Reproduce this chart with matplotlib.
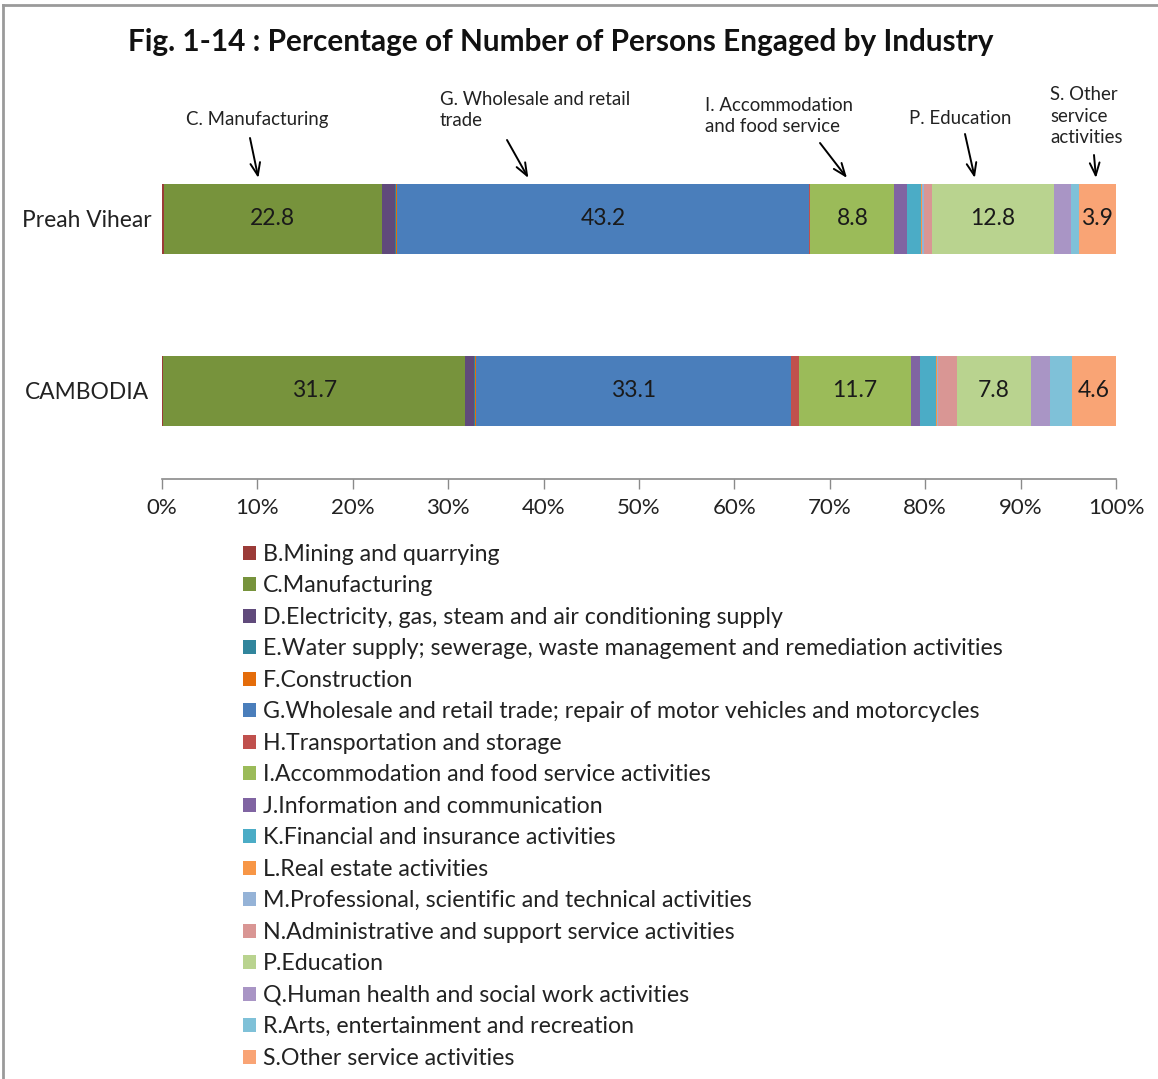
import matplotlib
matplotlib.use("Agg")
import matplotlib.pyplot as plt
from matplotlib.lines import Line2D
import numpy as np

plt.rcParams['font.family'] = ['Lato', 'DejaVu Sans']

regions = ["Preah Vihear", "CAMBODIA"]
industries = [
    "B.Mining and quarrying",
    "C.Manufacturing",
    "D.Electricity, gas, steam and air conditioning supply",
    "E.Water supply; sewerage, waste management and remediation activities",
    "F.Construction",
    "G.Wholesale and retail trade; repair of motor vehicles and motorcycles",
    "H.Transportation and storage",
    "I.Accommodation and food service activities",
    "J.Information and communication",
    "K.Financial and insurance activities",
    "L.Real estate activities",
    "M.Professional, scientific and technical activities",
    "N.Administrative and support service activities",
    "P.Education",
    "Q.Human health and social work activities",
    "R.Arts, entertainment and recreation",
    "S.Other service activities",
]
preah_vihear = [0.2, 22.8, 1.4, 0.1, 0.1, 43.2, 0.1, 8.8, 1.3, 1.5, 0.1, 0.2, 0.8, 12.8, 1.8, 0.8, 3.9]
cambodia = [0.1, 31.7, 0.9, 0.1, 0.1, 33.1, 0.8, 11.7, 1.0, 1.7, 0.05, 0.1, 2.0, 7.8, 2.0, 2.3, 4.6]
labeled = ["C.Manufacturing", "G.Wholesale and retail trade; repair of motor vehicles and motorcycles",
           "I.Accommodation and food service activities", "P.Education", "S.Other service activities"]
tick_values = list(range(0, 101, 10))
tick_labels = [f"{v}%" for v in tick_values]

colors = ["#9B3B38", "#77933C", "#604A7B", "#31859C", "#E46C0A", "#4A7EBB", "#C0504D",
          "#9BBB59", "#8064A2", "#4BACC6", "#F79646", "#95B3D7", "#D99694", "#B9D38F",
          "#A995C5", "#7FC1D8", "#F9A475"]

annotations = [
    ("C. Manufacturing", 10.1),
    ("G. Wholesale and retail\ntrade", 38.4),
    ("I. Accommodation\nand food service", 71.8),
    ("P. Education", 85.2),
    ("S. Other\nservice\nactivities", 97.9),
]

W, H = 1158, 1079
fig = plt.figure(figsize=(W / 100, H / 100), dpi=100)

def fx(px):
    return px / W

def fy(py):
    return 1 - py / H

ax = fig.add_axes([fx(162), fy(479), fx(1116) - fx(162), fy(150) - fy(479)])

data = np.array([preah_vihear, cambodia])
data = data / data.sum(axis=1, keepdims=True) * 100
ypos = [1, 0]
bar_h = 0.407
left = np.zeros(2)
for i, name in enumerate(industries):
    vals = data[:, i]
    ax.barh(ypos, vals, left=left, height=bar_h, color=colors[i], label=name, linewidth=0)
    if name in labeled:
        raw = [preah_vihear[i], cambodia[i]]
        for k in range(2):
            ax.text(left[k] + vals[k] / 2, ypos[k], f"{raw[k]:.1f}", ha='center', va='center',
                    fontsize=16.5, color='#1a1a1a')
    left += vals

ax.set_xlim(0, 100)
ax.set_ylim(-0.5116, 1.401)
ax.set_xticks(tick_values)
ax.set_xticklabels(tick_labels, fontsize=16, color='#222222')
ax.set_yticks(ypos)
ax.set_yticklabels(regions, fontsize=16.4, color='#222222')
for t in ax.get_yticklabels():
    t.set_ha('center')
ax.tick_params(axis='y', length=0, pad=54)
ax.tick_params(axis='x', length=7, width=1, color='#8a8a8a', pad=7, direction='out')
for s in ['top', 'right', 'left']:
    ax.spines[s].set_visible(False)
ax.spines['bottom'].set_color('#8a8a8a')
ax.spines['bottom'].set_linewidth(1.2)

# title
fig.text(fx(561), fy(42), "Fig. 1-14 : Percentage of Number of Persons Engaged by Industry",
         ha='center', va='center', fontsize=21.4, fontweight='bold', color='#111111')

# annotations
text_pos = [(257, 120, 'center'), (440, 110, 'left'), (705, 116, 'left'), (909, 118, 'left'), (1050, 116, 'left')]
tails = [(250, 138), (507, 140), (820, 143), (965, 134), (1094, 155)]
tip_y = 1 + bar_h / 2 + 6 / 172
for (txt, xd), (tx, ty, ha), (ax_, ay_) in zip(annotations, text_pos, tails):
    fig.text(fx(tx), fy(ty), txt, ha=ha, va='center', fontsize=13.4, color='#222222', linespacing=1.35)
    ax.annotate('', xy=(xd, tip_y), xycoords='data', xytext=(fx(ax_), fy(ay_)),
                textcoords='figure fraction',
                arrowprops=dict(arrowstyle='->,head_length=0.9,head_width=0.35', lw=1.4, color='black',
                                shrinkA=0, shrinkB=0))

# legend
handles, labels = ax.get_legend_handles_labels()
leg = fig.legend(handles, labels, loc='upper left', bbox_to_anchor=(fx(243), fy(544)),
                 frameon=False, fontsize=16.7, handlelength=0.55, handleheight=0.55,
                 handletextpad=0.3, labelspacing=0.452, borderpad=0, borderaxespad=0)
for t in leg.get_texts():
    t.set_color('#222222')

# border
fig.add_artist(Line2D([fx(3), fx(3)], [0, fy(5)], color='#9a9a9a', lw=2))
fig.add_artist(Line2D([fx(3), 1], [fy(5), fy(5)], color='#9a9a9a', lw=2))

fig.savefig("out.png", dpi=100)
